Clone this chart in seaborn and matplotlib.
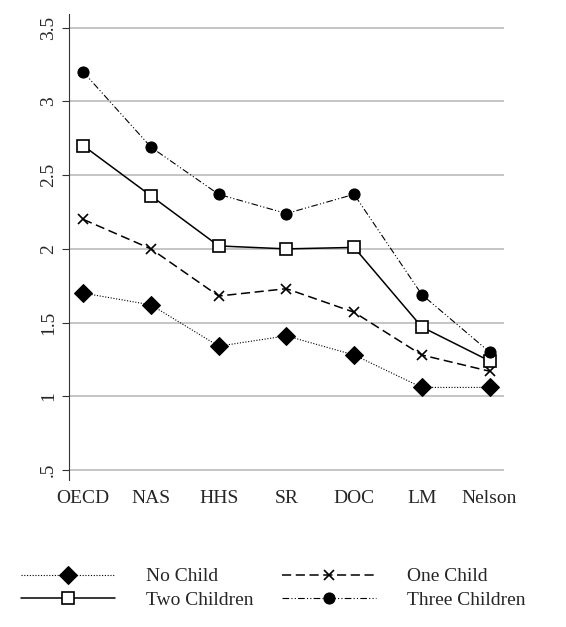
import pandas as pd
import matplotlib
matplotlib.use("Agg")
import matplotlib.pyplot as plt
import seaborn as sns

categories = ["OECD", "NAS", "HHS", "SR", "DOC", "LM", "Nelson"]
no_child = [1.70, 1.62, 1.34, 1.41, 1.28, 1.06, 1.06]
one_child = [2.20, 2.00, 1.68, 1.73, 1.57, 1.28, 1.17]
two_children = [2.70, 2.36, 2.02, 2.00, 2.01, 1.47, 1.24]
three_children = [3.20, 2.69, 2.37, 2.24, 2.37, 1.69, 1.30]

sns.set_style("white")
plt.rcParams["font.family"] = ["Liberation Serif", "DejaVu Serif"]

fig = plt.figure(figsize=(5.66, 6.27), dpi=100)
ax = fig.add_axes([0.122, 0.234, 0.768, 0.744])

styles = [
    ("No Child", no_child, dict(linestyle=(0, (1, 1.5)), marker="D", markersize=9,
                                markerfacecolor="black", linewidth=0.8)),
    ("One Child", one_child, dict(linestyle=(0, (6, 3)), marker="x", markersize=7,
                                  markeredgewidth=1.2, linewidth=1.1)),
    ("Two Children", two_children, dict(linestyle="-", marker="s", markersize=8,
                                        markerfacecolor="white", markeredgewidth=1.2, linewidth=1.1)),
    ("Three Children", three_children, dict(linestyle=(0, (6, 2, 1, 2, 1, 2)), marker="o", markersize=8,
                                            markerfacecolor="black", linewidth=0.8)),
]

for label, vals, kw in styles:
    df = pd.DataFrame({"x": range(len(categories)), "y": vals})
    sns.lineplot(data=df, x="x", y="y", ax=ax, color="black", markeredgecolor="black",
                 label=label, **kw)

ax.set_xlim(-0.21, 6.21)
ax.set_ylim(0.43, 3.595)
ax.set_yticks([0.5, 1, 1.5, 2, 2.5, 3, 3.5])
ax.set_yticklabels([".5", "1", "1.5", "2", "2.5", "3", "3.5"], rotation=90, va="center", fontsize=14)
ax.set_xticks(range(len(categories)))
ax.set_xticklabels(categories, fontsize=14)
ax.yaxis.grid(True, color="#bbbbbb", linewidth=1.2)
ax.set_axisbelow(True)
ax.tick_params(axis="y", left=True, length=5, color="#333333")
ax.tick_params(axis="x", bottom=False)
for s in ["top", "right", "bottom"]:
    ax.spines[s].set_visible(False)
ax.spines["left"].set_color("#333333")
ax.set_xlabel("")
ax.set_ylabel("")

handles, labels = ax.get_legend_handles_labels()
order = [0, 2, 1, 3]  # row-wise fill for ncol=2
ax.legend([handles[i] for i in order], [labels[i] for i in order],
          loc="upper center", bbox_to_anchor=(0.47, -0.15), ncol=2, frameon=False,
          fontsize=14, handlelength=4.8, columnspacing=1.5, handletextpad=1.6,
          labelspacing=0.3)

fig.savefig("out.png", dpi=100)
